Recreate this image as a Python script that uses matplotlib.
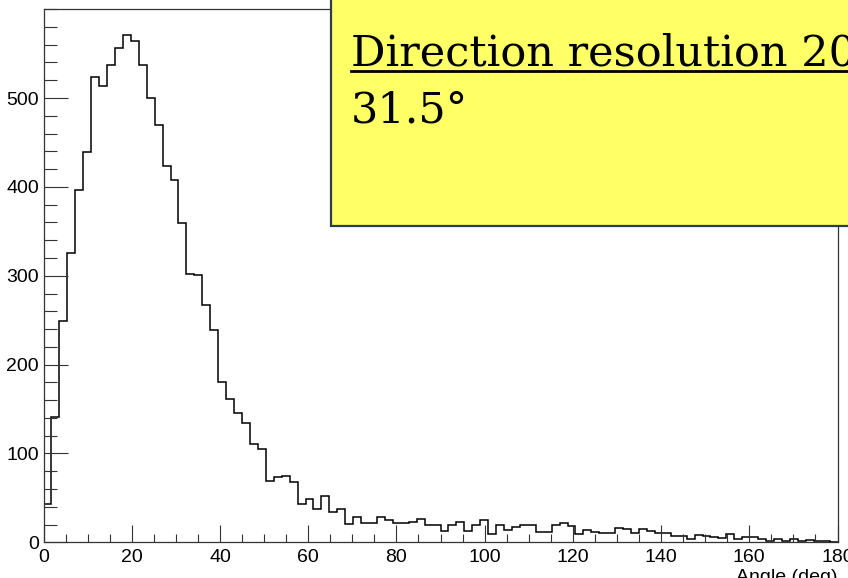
import matplotlib
matplotlib.use("Agg")
import matplotlib.pyplot as plt
import numpy as np
from matplotlib.patches import Rectangle
from matplotlib.lines import Line2D
from matplotlib.ticker import MultipleLocator, FixedLocator

# ---- data (histogram counts, 100 bins over 0..180 deg) ----
counts = [43, 141, 249, 326, 397, 439, 524, 514, 537, 556,
          571, 564, 537, 500, 470, 424, 408, 359, 302, 301,
          267, 239, 180, 161, 145, 134, 111, 105, 69, 74,
          75, 68, 43, 49, 38, 52, 34, 38, 21, 29,
          22, 22, 29, 25, 22, 22, 23, 26, 19, 20,
          13, 20, 23, 13, 20, 25, 9, 20, 14, 17,
          19, 20, 12, 12, 19, 22, 18, 9, 14, 12,
          10, 11, 16, 15, 11, 15, 13, 10, 11, 7,
          7, 4, 8, 7, 6, 5, 9, 4, 6, 6,
          4, 2, 4, 2, 4, 2, 3, 1, 1, 0]
x_min, x_max = 0, 180
x_ticks = [0, 20, 40, 60, 80, 100, 120, 140, 160, 180]
y_ticks = [0, 100, 200, 300, 400, 500]
x_title = "Angle (deg)"
pave_line1 = "Direction resolution 20"
pave_line2 = "31.5\u00b0"

W, H = 848, 578
fig = plt.figure(figsize=(W / 100, H / 100), dpi=100)
fig.patch.set_facecolor("white")

L, R, B, T = 43.5, 837.5, 542.3, 9.0
ax = fig.add_axes([L / W, 1 - B / H, (R - L) / W, (B - T) / H])

edges = np.linspace(x_min, x_max, len(counts) + 1)
ax.stairs(counts, edges, color="black", lw=1.1, baseline=None)

ax.set_xlim(x_min, x_max)
ax.set_ylim(0, 600.2)

frame_col = "#333333"
for s in ax.spines.values():
    s.set_color(frame_col)
    s.set_linewidth(0.9)

ax.xaxis.set_major_locator(FixedLocator(x_ticks))
ax.xaxis.set_minor_locator(MultipleLocator(5))
ax.yaxis.set_major_locator(FixedLocator(y_ticks))
ax.yaxis.set_minor_locator(MultipleLocator(20))

tick_font = ["Liberation Sans Narrow", "Liberation Sans", "DejaVu Sans"]
ax.tick_params(axis="both", which="both", direction="in", color=frame_col, width=0.8,
               top=False, right=False)
ax.tick_params(axis="x", which="major", length=12.0, pad=5.0)
ax.tick_params(axis="x", which="minor", length=6.0)
ax.tick_params(axis="y", which="major", length=17.2, pad=3.3)
ax.tick_params(axis="y", which="minor", length=9.0)
ax.set_xticklabels([str(v) for v in x_ticks])
ax.set_yticklabels([str(v) for v in y_ticks])
for lab in ax.get_xticklabels() + ax.get_yticklabels():
    lab.set_fontfamily(tick_font)
    lab.set_fontsize(14)

# x-axis title, right-aligned at the axis end (cut by the figure bottom)
fig.text(R / W, 1 - 582 / H, x_title, ha="right", va="baseline",
         fontsize=14, family=tick_font)

# yellow pave (extends beyond the figure top/right)
px = lambda x, y: (x / W, 1 - y / H)
x0, y0 = px(331, 225.6)
rect = Rectangle((x0, y0), (900 - 331) / W, (225.6 + 50) / H,
                 transform=fig.transFigure, facecolor="#ffff66",
                 edgecolor="#2e3b48", linewidth=1.6, zorder=10)
fig.add_artist(rect)

tx, ty1 = px(351, 65.7)
fig.text(tx, ty1, pave_line1, ha="left", va="baseline", fontsize=31,
         family="DejaVu Serif", color="black", zorder=11)
ux0, uy = px(351, 70.7)
fig.add_artist(Line2D([ux0, 1.05], [uy, uy], transform=fig.transFigure,
                      color="black", lw=2.0, zorder=11))
_, ty2 = px(351, 122.9)
fig.text(tx, ty2, pave_line2, ha="left", va="baseline", fontsize=31,
         family="DejaVu Serif", color="black", zorder=11)

fig.savefig("out.png", dpi=100)
